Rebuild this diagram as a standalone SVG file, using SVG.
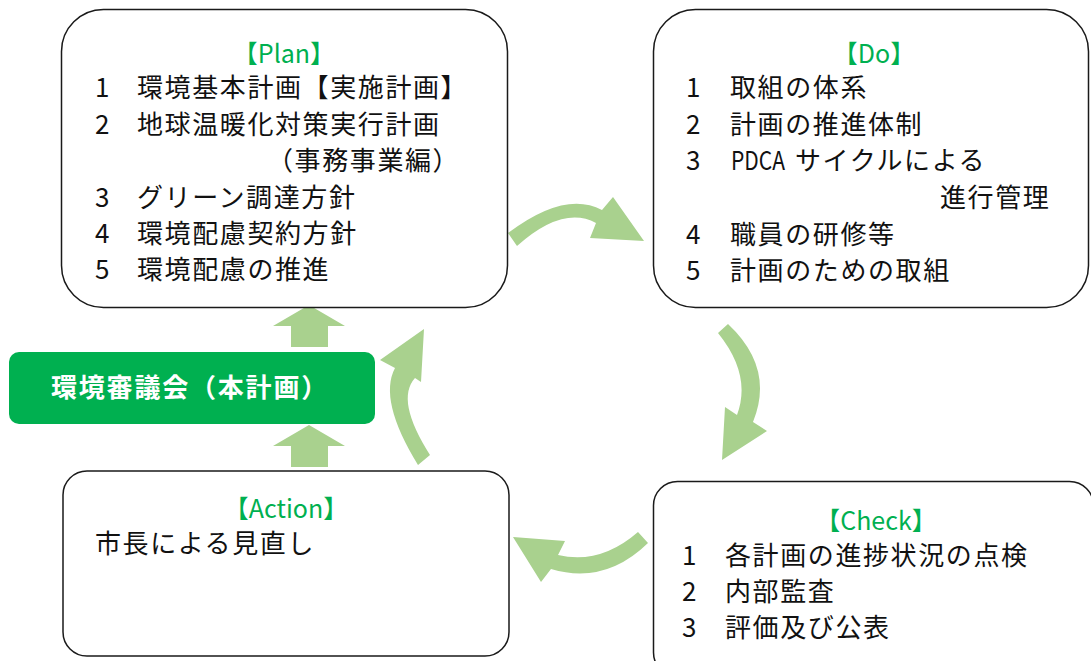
<svg xmlns="http://www.w3.org/2000/svg" width="1091" height="661" viewBox="0 0 1091 661">
<style>
.box{fill:#fff;stroke:#1a1a1a;stroke-width:1.5}
.t{font-family:"Noto Sans CJK JP","Noto Sans",sans-serif;font-size:26px;letter-spacing:1.6px;fill:#111}
.ttl{font-family:"Noto Sans CJK JP","Noto Sans",sans-serif;font-size:25px;fill:#00B050;text-anchor:middle}
.arr{fill:#A9D18E}
</style>
<rect width="1091" height="661" fill="#fff"/>
<g id="connectors">
<path class="arr" d="M508,233 Q565,190 602,210 L613,197 L644,241 L590,238 L596,223 Q563,205 517,246 Z"/>
<path class="arr" d="M728,324 Q775,368 753,422 L767,431 L722,460 L725,407 L737,415 Q752,375 718,333 Z"/>
<path class="arr" d="M648,543 Q605,585 551,569 L541,582 L513,537 L565,541 L558,555 Q600,565 638,532 Z"/>
<path class="arr" d="M418,465 Q378,400 395,368 L380,360 L424,329 L421,382 L415,378 Q395,400 430,455 Z"/>
<path class="arr" d="M291,347 L291,326 L273,326 L309,305 L345,326 L328,326 L328,347 Z"/>
<path class="arr" d="M291,467 L291,446 L273,446 L309,425 L345,446 L328,446 L328,467 Z"/>
</g>
<g id="plan">
<rect class="box" x="61.5" y="9.5" width="446" height="298" rx="42"/>
<text class="ttl" x="284" y="63">【Plan】</text>
<text class="t" x="95" y="97">1</text><text class="t" x="137" y="97">環境基本計画【実施計画】</text>
<text class="t" x="95" y="134">2</text><text class="t" x="137" y="134">地球温暖化対策実行計画</text>
<text class="t" x="267" y="170">（事務事業編）</text>
<text class="t" x="95" y="207">3</text><text class="t" x="137" y="207">グリーン調達方針</text>
<text class="t" x="95" y="243">4</text><text class="t" x="137" y="243">環境配慮契約方針</text>
<text class="t" x="95" y="279">5</text><text class="t" x="137" y="279">環境配慮の推進</text>
</g>
<g id="do">
<rect class="box" x="653.5" y="9.5" width="435" height="298" rx="42"/>
<text class="ttl" x="874" y="63">【Do】</text>
<text class="t" x="686" y="97">1</text><text class="t" x="730" y="97">取組の体系</text>
<text class="t" x="686" y="134">2</text><text class="t" x="730" y="134">計画の推進体制</text>
<text class="t" x="686" y="170">3</text><text class="t" x="731" y="170"><tspan letter-spacing="0" textLength="54" lengthAdjust="spacingAndGlyphs">PDCA</tspan><tspan x="795">サイクルによる</tspan></text>
<text class="t" x="940" y="207">進行管理</text>
<text class="t" x="686" y="244">4</text><text class="t" x="730" y="244">職員の研修等</text>
<text class="t" x="686" y="280">5</text><text class="t" x="730" y="280">計画のための取組</text>
</g>
<g id="council">
<rect x="9" y="352" width="366" height="72" rx="10" fill="#00B050"/>
<text x="51" y="397" font-family="'Noto Sans CJK JP','Noto Sans',sans-serif" font-size="26" font-weight="bold" letter-spacing="1.8" fill="#fff">環境審議会（本計画）</text>
</g>
<g id="action">
<rect class="box" x="63" y="471" width="446" height="185" rx="24"/>
<text class="ttl" x="286" y="518">【Action】</text>
<text class="t" x="95" y="553">市長による見直し</text>
</g>
<g id="check">
<rect class="box" x="653.5" y="481.5" width="440" height="195" rx="24"/>
<text class="ttl" x="876" y="530">【Check】</text>
<text class="t" x="682" y="565">1</text><text class="t" x="725" y="565">各計画の進捗状況の点検</text>
<text class="t" x="682" y="601">2</text><text class="t" x="725" y="601">内部監査</text>
<text class="t" x="682" y="637">3</text><text class="t" x="725" y="637">評価及び公表</text>
</g>
</svg>
